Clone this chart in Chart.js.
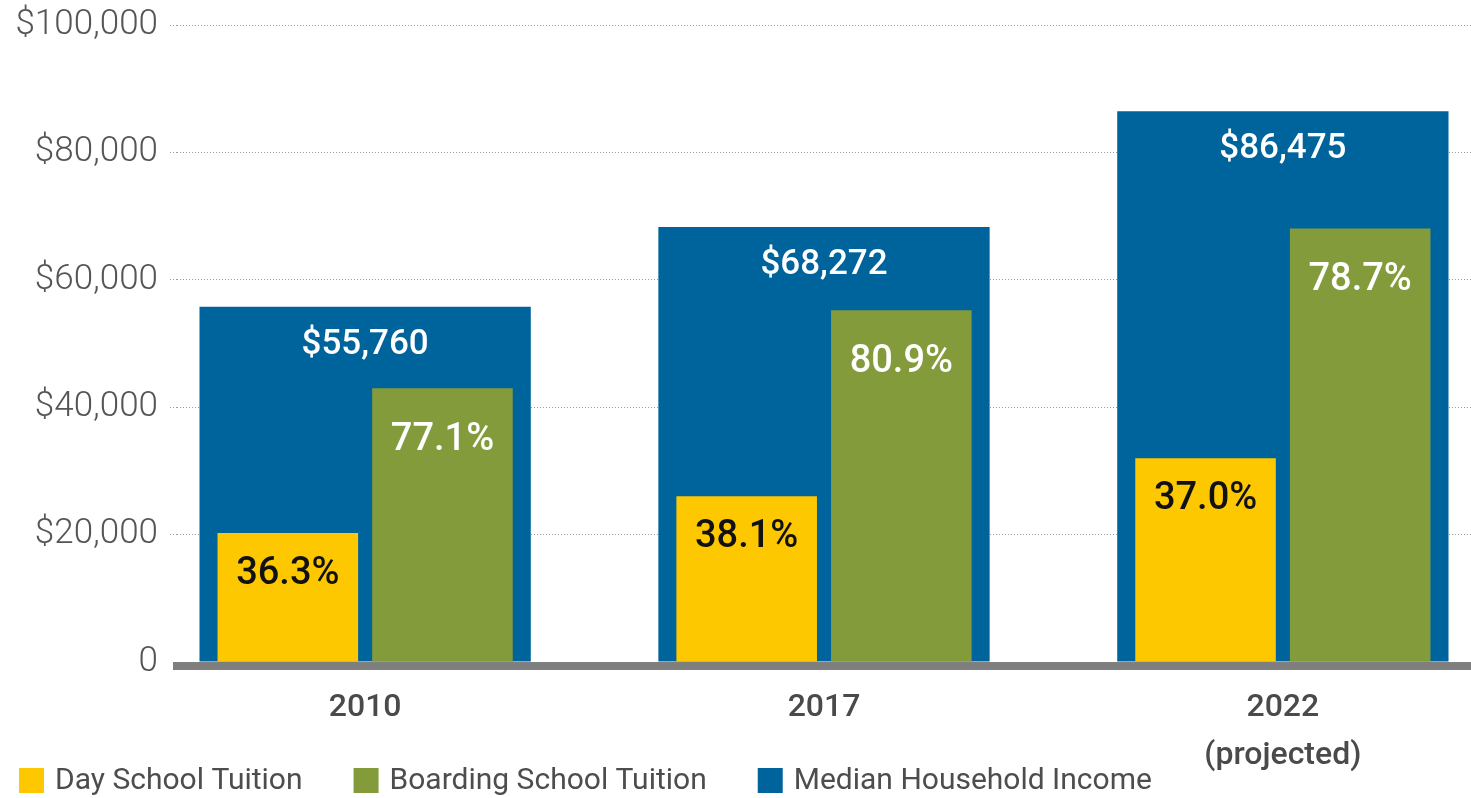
<!DOCTYPE html>
<html>
<head>
<meta charset="utf-8">
<title>Tuition vs. Median Household Income</title>
<script src="https://cdn.jsdelivr.net/npm/chart.js@4.4.1/dist/chart.umd.min.js"></script>
<style>
  html, body { margin: 0; padding: 0; background: #ffffff; }
  #wrap { width: 1471px; height: 798px; position: relative; }
</style>
</head>
<body>
<div id="wrap"><canvas id="chart" width="1471" height="798"></canvas></div>
<script>
// ---- data ----
const years = ['2010', '2017', ['2022', '(projected)']];
const medianIncome = [55760, 68272, 86475];
const dayTuition = [20240, 26010, 32000];
const boardingTuition = [42990, 55230, 68060];
const dayShare = [36.3, 38.1, 37.0];
const boardingShare = [77.1, 80.9, 78.7];
const yTicks = [0, 20000, 40000, 60000, 80000, 100000];
const seriesNames = ['Day School Tuition', 'Boarding School Tuition', 'Median Household Income'];

// ---- styling ----
const YELLOW = '#fdc800';
const GREEN = '#849b3c';
const BLUE = '#00649c';
const FONT = 'Roboto, "Open Sans", sans-serif';

const money = v => '$' + v.toLocaleString('en-US');
const pct = v => v.toFixed(1) + '%';
const points = vals => vals.map((v, i) => ({ x: i, y: v }));

// in-bar value labels
const barLabels = {
  id: 'barLabels',
  afterDatasetsDraw(chart) {
    const ctx = chart.ctx;
    chart.data.datasets.forEach((ds, i) => {
      const meta = chart.getDatasetMeta(i);
      const st = ds.labelStyle;
      meta.data.forEach((bar, j) => {
        ctx.save();
        ctx.font = st.font;
        ctx.fillStyle = st.color;
        ctx.textAlign = 'center';
        ctx.textBaseline = 'middle';
        ctx.fillText(ds.valueLabels[j], bar.x, bar.y + st.offset);
        ctx.restore();
      });
    });
  }
};

// legend row along the bottom
const bottomLegend = {
  id: 'bottomLegend',
  afterDraw(chart) {
    const ctx = chart.ctx;
    const box = 25, gap = 11, spacing = 51, cy = 780.5;
    let x = 19;
    ctx.save();
    ctx.font = '400 30px ' + FONT;
    ctx.textBaseline = 'middle';
    ctx.textAlign = 'left';
    chart.data.datasets.forEach(ds => {
      ctx.fillStyle = ds.backgroundColor;
      ctx.fillRect(x, cy - box / 2, box, box);
      x += box + gap;
      ctx.fillStyle = '#4d4d4d';
      ctx.fillText(ds.label, x, cy + 1);
      x += ctx.measureText(ds.label).width + spacing;
    });
    ctx.restore();
  }
};

function build() {
  Chart.defaults.font.family = FONT;

  new Chart(document.getElementById('chart'), {
    type: 'bar',
    data: {
      datasets: [
        {
          label: seriesNames[0],
          data: points(dayTuition),
          backgroundColor: YELLOW,
          order: 1,
          barPercentage: 0.909,
          categoryPercentage: 0.674,
          valueLabels: dayShare.map(pct),
          labelStyle: { font: '500 38px ' + FONT, color: '#111111', offset: 41 }
        },
        {
          label: seriesNames[1],
          data: points(boardingTuition),
          backgroundColor: GREEN,
          order: 1,
          barPercentage: 0.909,
          categoryPercentage: 0.674,
          valueLabels: boardingShare.map(pct),
          labelStyle: { font: '500 38px ' + FONT, color: '#ffffff', offset: 52 }
        },
        {
          // wide backdrop bar, centred on its year behind the tuition pair
          label: seriesNames[2],
          data: points(medianIncome),
          backgroundColor: BLUE,
          order: 2,
          grouped: false,
          barPercentage: 0.722,
          categoryPercentage: 1,
          valueLabels: medianIncome.map(money),
          labelStyle: { font: '500 35px ' + FONT, color: '#ffffff', offset: 38 }
        }
      ]
    },
    options: {
      responsive: false,
      animation: false,
      devicePixelRatio: 1,
      layout: { padding: { top: 25, left: 16, right: 0, bottom: 22 } },
      plugins: { legend: { display: false }, tooltip: { enabled: false } },
      scales: {
        x: {
          type: 'linear',
          position: 'bottom',
          min: -0.41,
          max: 2.41,
          offset: false,
          afterBuildTicks: a => { a.ticks = years.map((_, i) => ({ value: i })); },
          afterFit: a => { a.height = 110; },
          grid: { color: 'rgba(0,0,0,0)', drawTicks: false, drawOnChartArea: false },
          border: { display: true, color: '#7f7f7f', width: 8 },
          ticks: {
            stepSize: 1,
            includeBounds: false,
            padding: 18,
            color: '#4a4a4a',
            font: { size: 32, weight: '500', lineHeight: 1.5 },
            maxRotation: 0,
            autoSkip: false,
            callback: v => years[v]
          }
        },
        y: {
          min: -630,
          max: 100000,
          afterBuildTicks: a => { a.ticks = yTicks.map(v => ({ value: v })); },
          afterFit: a => { a.width = 161; a.paddingTop = 0; a.paddingBottom = 0; },
          grid: {
            color: c => (c.tick && c.tick.value === 0) ? 'rgba(0,0,0,0)' : '#9c9c9c',
            tickColor: c => (c.tick && c.tick.value === 0) ? 'rgba(0,0,0,0)' : '#9c9c9c',
            lineWidth: 1,
            drawTicks: true,
            tickLength: 7,
            tickBorderDash: [1, 2]
          },
          border: { display: false, dash: [1, 2] },
          ticks: {
            padding: 12,
            color: '#555555',
            font: { size: 35, weight: '300' },
            callback: v => (v === 0 ? '0' : money(v))
          }
        }
      }
    },
    plugins: [barLabels, bottomLegend]
  });
}

Promise.all([
  document.fonts.load('300 35px Roboto'),
  document.fonts.load('400 30px Roboto'),
  document.fonts.load('500 35px Roboto')
]).catch(() => {}).then(build);
</script>
</body>
</html>
